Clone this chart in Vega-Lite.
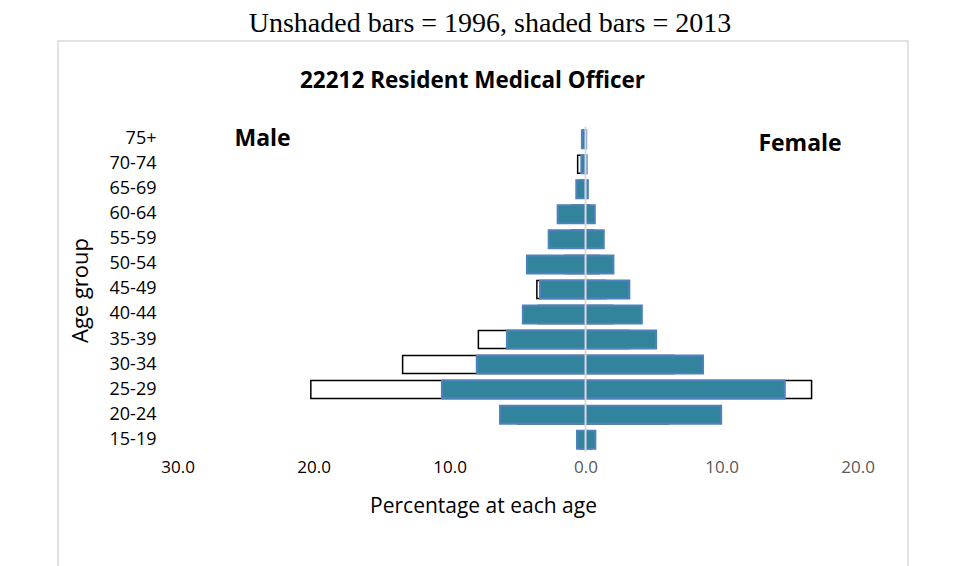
{
  "$schema": "https://vega.github.io/schema/vega-lite/v6.json",
  "width": 850,
  "height": 526,
  "autosize": {"type": "none"},
  "padding": {"left": 58, "top": 41, "right": 55, "bottom": 0},
  "background": "white",
  "config": {
    "view": {"stroke": "#d9d9d9", "strokeWidth": 1.5},
    "font": "Open Sans"
  },
  "title": {
    "text": "Unshaded bars = 1996, shaded bars = 2013",
    "font": "Liberation Serif",
    "fontSize": 28,
    "fontWeight": "normal",
    "color": "#000000",
    "anchor": "middle",
    "frame": "group",
    "offset": 3,
    "dx": 7
  },
  "datasets": {
    "pop": [
      {"age": "75+", "year": 2013, "sex": "M", "pct": -0.27},
      {"age": "75+", "year": 2013, "sex": "F", "pct": 0.05},
      {"age": "70-74", "year": 2013, "sex": "M", "pct": -0.31},
      {"age": "70-74", "year": 2013, "sex": "F", "pct": 0.08},
      {"age": "65-69", "year": 2013, "sex": "M", "pct": -0.68},
      {"age": "65-69", "year": 2013, "sex": "F", "pct": 0.17},
      {"age": "60-64", "year": 2013, "sex": "M", "pct": -2.05},
      {"age": "60-64", "year": 2013, "sex": "F", "pct": 0.68},
      {"age": "55-59", "year": 2013, "sex": "M", "pct": -2.71},
      {"age": "55-59", "year": 2013, "sex": "F", "pct": 1.34},
      {"age": "50-54", "year": 2013, "sex": "M", "pct": -4.31},
      {"age": "50-54", "year": 2013, "sex": "F", "pct": 2.05},
      {"age": "45-49", "year": 2013, "sex": "M", "pct": -3.35},
      {"age": "45-49", "year": 2013, "sex": "F", "pct": 3.22},
      {"age": "40-44", "year": 2013, "sex": "M", "pct": -4.61},
      {"age": "40-44", "year": 2013, "sex": "F", "pct": 4.14},
      {"age": "35-39", "year": 2013, "sex": "M", "pct": -5.78},
      {"age": "35-39", "year": 2013, "sex": "F", "pct": 5.19},
      {"age": "30-34", "year": 2013, "sex": "M", "pct": -8.0},
      {"age": "30-34", "year": 2013, "sex": "F", "pct": 8.64},
      {"age": "25-29", "year": 2013, "sex": "M", "pct": -10.56},
      {"age": "25-29", "year": 2013, "sex": "F", "pct": 14.65},
      {"age": "20-24", "year": 2013, "sex": "M", "pct": -6.29},
      {"age": "20-24", "year": 2013, "sex": "F", "pct": 9.97},
      {"age": "15-19", "year": 2013, "sex": "M", "pct": -0.63},
      {"age": "15-19", "year": 2013, "sex": "F", "pct": 0.72},
      {"age": "75+", "year": 1996, "sex": "M", "pct": -0.2},
      {"age": "75+", "year": 1996, "sex": "F", "pct": 0.03},
      {"age": "70-74", "year": 1996, "sex": "M", "pct": -0.58},
      {"age": "70-74", "year": 1996, "sex": "F", "pct": 0.05},
      {"age": "65-69", "year": 1996, "sex": "M", "pct": -0.5},
      {"age": "65-69", "year": 1996, "sex": "F", "pct": 0.1},
      {"age": "60-64", "year": 1996, "sex": "M", "pct": -1.0},
      {"age": "60-64", "year": 1996, "sex": "F", "pct": 0.3},
      {"age": "55-59", "year": 1996, "sex": "M", "pct": -1.05},
      {"age": "55-59", "year": 1996, "sex": "F", "pct": 0.6},
      {"age": "50-54", "year": 1996, "sex": "M", "pct": -1.5},
      {"age": "50-54", "year": 1996, "sex": "F", "pct": 1.0},
      {"age": "45-49", "year": 1996, "sex": "M", "pct": -3.58},
      {"age": "45-49", "year": 1996, "sex": "F", "pct": 1.5},
      {"age": "40-44", "year": 1996, "sex": "M", "pct": -3.5},
      {"age": "40-44", "year": 1996, "sex": "F", "pct": 2.0},
      {"age": "35-39", "year": 1996, "sex": "M", "pct": -7.88},
      {"age": "35-39", "year": 1996, "sex": "F", "pct": 3.2},
      {"age": "30-34", "year": 1996, "sex": "M", "pct": -13.45},
      {"age": "30-34", "year": 1996, "sex": "F", "pct": 6.5},
      {"age": "25-29", "year": 1996, "sex": "M", "pct": -20.2},
      {"age": "25-29", "year": 1996, "sex": "F", "pct": 16.62},
      {"age": "20-24", "year": 1996, "sex": "M", "pct": -5.0},
      {"age": "20-24", "year": 1996, "sex": "F", "pct": 6.1},
      {"age": "15-19", "year": 1996, "sex": "M", "pct": -0.4},
      {"age": "15-19", "year": 1996, "sex": "F", "pct": 0.4}
    ]
  },
  "data": {"name": "pop"},
  "encoding": {
    "y": {
      "field": "age",
      "type": "nominal",
      "sort": ["75+", "70-74", "65-69", "60-64", "55-59", "50-54", "45-49", "40-44", "35-39", "30-34", "25-29", "20-24", "15-19"],
      "scale": {"range": [89.2, 407.7], "paddingInner": 0.281, "paddingOuter": 0, "round": false},
      "axis": {
        "title": "Age group",
        "domain": false,
        "ticks": false,
        "grid": false,
        "offset": -98,
        "labelPadding": 0,
        "labelFont": "Open Sans",
        "labelFontSize": 18,
        "labelColor": "#000000",
        "titleFont": "Open Sans",
        "titleFontSize": 22,
        "titleFontWeight": "normal",
        "titleColor": "#000000",
        "titleX": -75.5,
        "titleY": 249,
        "titleBaseline": "middle",
        "titleAlign": "center",
        "titleAngle": 270
      }
    }
  },
  "layer": [
    {
      "transform": [{"filter": "datum.year == 1996"}],
      "mark": {"type": "bar", "fill": "#ffffff", "stroke": "#000000", "strokeWidth": 1.5, "stack": null},
      "encoding": {
        "x": {
          "field": "pct",
          "type": "quantitative",
          "scale": {"domain": [-38.79, 23.71], "nice": false, "zero": false},
          "axis": {
            "orient": "bottom",
            "title": "Percentage at each age",
            "values": [-30, -20, -10, 0, 10, 20],
            "labelExpr": "format(abs(datum.value), '.1f')",
            "domain": false,
            "ticks": false,
            "grid": false,
            "offset": -110.5,
            "labelPadding": 3,
            "labelFlush": false,
            "labelOverlap": false,
            "labelFont": "Open Sans",
            "labelFontSize": 17,
            "labelColor": {"condition": {"test": "datum.value < 0", "value": "#000000"}, "value": "#595959"},
            "titleFont": "Open Sans",
            "titleFontSize": 21,
            "titleFontWeight": "normal",
            "titleColor": "#000000",
            "titleY": 49.5,
            "titleBaseline": "middle"
          }
        }
      }
    },
    {
      "transform": [{"filter": "datum.year == 2013"}],
      "mark": {"type": "bar", "fill": "#31849b", "stroke": "#4f81bd", "strokeWidth": 2, "stack": null},
      "encoding": {
        "x": {
          "field": "pct",
          "type": "quantitative",
          "axis": {
            "orient": "top",
            "title": "22212 Resident Medical Officer",
            "labels": false,
            "domain": false,
            "ticks": false,
            "grid": false,
            "offset": 0,
            "titleFont": "Open Sans",
            "titleFontSize": 22.5,
            "titleFontWeight": "bold",
            "titleColor": "#000000",
            "titleX": 414,
            "titleY": 46.3,
            "titleAlign": "center",
            "titleBaseline": "alphabetic"
          }
        }
      }
    },
    {
      "transform": [{"filter": "datum.year == 2013 && datum.sex == 'F'"}],
      "mark": {"type": "tick", "color": "#d9d9d9", "thickness": 2, "size": 25.04, "opacity": 1},
      "encoding": {"x": {"datum": 0, "type": "quantitative", "axis": null}}
    },
    {
      "data": {"values": [{"label": "Male", "pct": -23.75, "age": "75+"}]},
      "mark": {"type": "text", "font": "Open Sans", "fontWeight": "bold", "fontSize": 23, "baseline": "alphabetic", "align": "center", "dy": 7, "color": "#000000"},
      "encoding": {"x": {"field": "pct", "type": "quantitative", "axis": null}, "text": {"field": "label"}}
    },
    {
      "data": {"values": [{"label": "Female", "pct": 15.77, "age": "75+"}]},
      "mark": {"type": "text", "font": "Open Sans", "fontWeight": "bold", "fontSize": 23, "baseline": "alphabetic", "align": "center", "dy": 11.5, "color": "#000000"},
      "encoding": {"x": {"field": "pct", "type": "quantitative", "axis": null}, "text": {"field": "label"}}
    }
  ]
}
